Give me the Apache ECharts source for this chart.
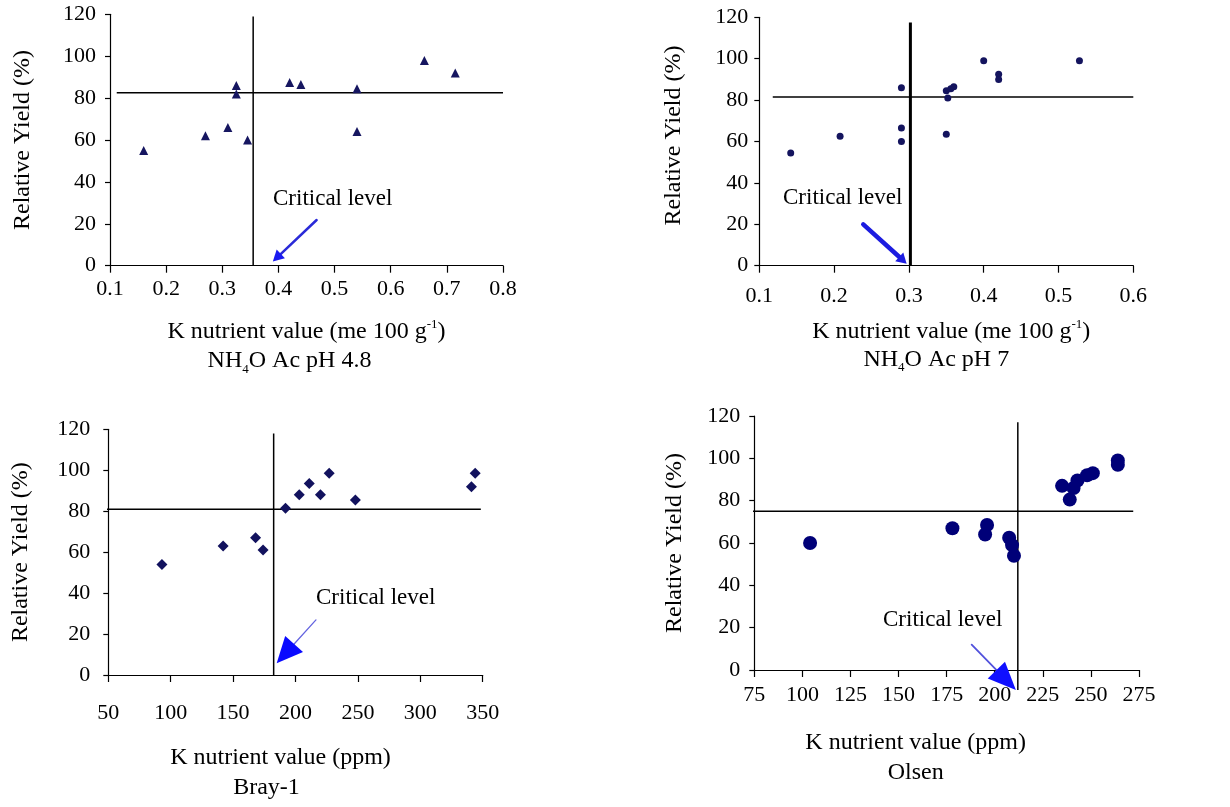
<!DOCTYPE html>
<html><head><meta charset="utf-8">
<script src="https://cdn.jsdelivr.net/npm/echarts@6/dist/echarts.min.js"></script>
<style>html,body{margin:0;padding:0;background:#fff}#c{width:1230px;height:807px}</style>
</head><body><div id="c"></div>
<script>
// ---- data ----
const yTicks = [0, 20, 40, 60, 80, 100, 120];
// Panel 1: NH4OAc pH 4.8
const p1X = [0.16, 0.27, 0.31, 0.345, 0.325, 0.325, 0.42, 0.44, 0.54, 0.54, 0.66, 0.715];
const p1Y = [55, 62, 66, 60, 86, 82, 87.5, 86.5, 84.5, 64, 98, 92];
const p1Crit = {x: 0.355, y: 82.5};
// Panel 2: NH4OAc pH 7
const p2X = [0.142, 0.208, 0.29, 0.29, 0.29, 0.35, 0.35, 0.352, 0.356, 0.36, 0.40, 0.42, 0.42, 0.528];
const p2Y = [54.5, 62.5, 86, 66.5, 60, 63.5, 84.5, 81, 85.5, 86.5, 99, 92.5, 90, 99];
const p2Crit = {x: 0.302, y: 81.5};
// Panel 3: Bray-1
const p3X = [93, 142, 168, 174, 192, 203, 211, 220, 227, 248, 341, 344];
const p3Y = [54, 63, 67, 61, 81.5, 88, 93.5, 88, 98.5, 85.5, 92, 98.5];
const p3Crit = {x: 182.5, y: 81};
// Panel 4: Olsen
const p4X = [104, 178, 196, 195, 207.5, 209, 210, 235, 239, 241, 243, 248, 251, 264, 264];
const p4Y = [60, 67, 68.5, 64, 62.5, 59, 54, 87, 80.5, 86, 89.5, 92, 93, 99, 97];
const p4Crit = {x: 212, y: 75};

// reference-line extents [start, end]
const p1H = [0.112, 0.8], p1V = [0, 119];
const p2H = [0.118, 0.6], p2V = [0, 117.5];
const p3H = [46, 348.5], p3V = [0, 118];
const p4H = [66, 272], p4V = [-9.5, 117];

// arrows [fromX, fromY, toX, toY]
const p1Arrow = [0.468, 21.8, 0.39, 2];
const p2Arrow = [0.239, 20, 0.297, 1];
const p3Arrow = [216.4, 26.9, 184.9, 5.7];
const p4Arrow = [188, 12, 211, -9.5];

const F = "'Liberation Serif','Times New Roman',serif";
const zip = (a, b) => a.map((v, i) => [v, b[i]]);

const grids = [
  {left: 110, top: 14.3, width: 393, height: 251.4},
  {left: 759.3, top: 17.3, width: 374, height: 248.4},
  {left: 108.3, top: 429.3, width: 374.4, height: 245.7},
  {left: 754.3, top: 416, width: 384.7, height: 254}
];

const xCfg = [
  {min: 0.1, max: 0.8, interval: 0.1, fmt: v => v.toFixed(1), margin: 13, gap: 52,
   name: 'K nutrient value (me 100 g{sup|-1})\nNH{sub|4}O Ac pH 4.8{pad| }', padL: 0, padR: 0, pad: 34, lh: 29},
  {min: 0.1, max: 0.6, interval: 0.1, fmt: v => v.toFixed(1), margin: 20, gap: 52,
   name: 'K nutrient value (me 100 g{sup|-1})\nNH{sub|4}O Ac pH 7{pad| }', padL: 10, padR: 0, pad: 30, lh: 28},
  {min: 50, max: 350, interval: 50, fmt: v => String(v), margin: 27, gap: 68,
   name: 'K nutrient value (ppm)\nBray-1{pad| }', padL: 0, padR: 30, pad: 28, lh: 30},
  {min: 75, max: 275, interval: 25, fmt: v => String(v), margin: 14, gap: 58,
   name: 'K nutrient value (ppm)\nOlsen', padL: 0, padR: 62, pad: 0, lh: 30}
];
const yCfg = [
  {gap: 75, margin: 14, pad: [0, 0, 0, 0]},
  {gap: 74, margin: 11, pad: [0, 0, 0, 12]},
  {gap: 76, margin: 18, pad: [0, 0, 0, 0]},
  {gap: 68, margin: 14, pad: [0, 0, 0, 0]}
];

const xAxis = xCfg.map((c, i) => ({
  type: 'value', gridIndex: i, min: c.min, max: c.max, interval: c.interval,
  name: c.name, nameLocation: 'middle', nameGap: c.gap,
  nameTextStyle: {
    fontFamily: F, fontSize: 24, color: '#000', lineHeight: c.lh, padding: [0, c.padR, 0, c.padL],
    rich: {
      sup: {fontFamily: F, fontSize: 13, lineHeight: 13, verticalAlign: 'top', color: '#000'},
      sub: {fontFamily: F, fontSize: 13, lineHeight: 13, verticalAlign: 'bottom', color: '#000'},
      pad: {width: c.pad, fontSize: 24}
    }
  },
  axisLine: {onZero: false, lineStyle: {color: '#000', width: 1.2}},
  axisTick: {show: true, length: 7, lineStyle: {color: '#000', width: 1.2}},
  axisLabel: {fontFamily: F, fontSize: 22, color: '#000', margin: c.margin, formatter: c.fmt},
  splitLine: {show: false}
}));
const yAxis = yCfg.map((c, i) => ({
  type: 'value', gridIndex: i, min: 0, max: 120, interval: 20,
  name: 'Relative Yield (%)', nameLocation: 'middle', nameGap: c.gap, nameRotate: 90,
  nameTextStyle: {fontFamily: F, fontSize: 24, color: '#000', padding: c.pad},
  axisLine: {show: true, onZero: false, lineStyle: {color: '#000', width: 1.2}},
  axisTick: {show: true, length: 5, lineStyle: {color: '#000', width: 1.2}},
  axisLabel: {fontFamily: F, fontSize: 22, color: '#000', margin: c.margin,
    formatter: v => yTicks.includes(v) ? String(v) : ''},
  splitLine: {show: false}
}));

const panels = [
  {X: p1X, Y: p1Y, crit: p1Crit, H: p1H, V: p1V, arrow: p1Arrow, sym: 'triangle', size: 9, color: '#161660',
   vw: 1.5, aw: 2.5, acol: '#2a2ad8', hcol: '#1a1af0', hl: 11, hw: 6},
  {X: p2X, Y: p2Y, crit: p2Crit, H: p2H, V: p2V, arrow: p2Arrow, sym: 'circle', size: 7, color: '#14145e',
   vw: 3, aw: 4.5, acol: '#1c1ce0', hcol: '#1c1ce0', hl: 10, hw: 6},
  {X: p3X, Y: p3Y, crit: p3Crit, H: p3H, V: p3V, arrow: p3Arrow, sym: 'diamond', size: 11, color: '#12125e',
   vw: 1.5, aw: 1.3, acol: '#6464e0', hcol: '#0a0aff', hl: 26, hw: 12},
  {X: p4X, Y: p4Y, crit: p4Crit, H: p4H, V: p4V, arrow: p4Arrow, sym: 'circle', size: 14, color: '#000078',
   vw: 1.5, aw: 1.8, acol: '#5252dc', hcol: '#1010ff', hl: 28, hw: 12}
];

function arrowRenderer(p) {
  return function (params, api) {
    const a = api.coord([api.value(0), api.value(1)]);
    const b = api.coord([api.value(2), api.value(3)]);
    const dx = b[0] - a[0], dy = b[1] - a[1];
    const len = Math.sqrt(dx * dx + dy * dy);
    const ux = dx / len, uy = dy / len;
    const bx = b[0] - ux * p.hl, by = b[1] - uy * p.hl;
    const nx = -uy * p.hw, ny = ux * p.hw;
    return {
      type: 'group',
      children: [
        {type: 'line', shape: {x1: a[0], y1: a[1], x2: bx + ux * 2, y2: by + uy * 2},
         style: {stroke: p.acol, lineWidth: p.aw, lineCap: 'round'}},
        {type: 'polygon', shape: {points: [[b[0], b[1]], [bx + nx, by + ny], [bx - nx, by - ny]]},
         style: {fill: p.hcol}}
      ]
    };
  };
}

const series = [];
panels.forEach((p, i) => {
  series.push({
    type: 'scatter', xAxisIndex: i, yAxisIndex: i, data: zip(p.X, p.Y),
    symbol: p.sym, symbolSize: p.size, itemStyle: {color: p.color, opacity: 1}, clip: false, z: 3
  });
  series.push({
    type: 'line', xAxisIndex: i, yAxisIndex: i, clip: false, symbol: 'none', silent: true,
    data: [[p.H[0], p.crit.y], [p.H[1], p.crit.y]],
    lineStyle: {color: '#000', width: 1.5}
  });
  series.push({
    type: 'line', xAxisIndex: i, yAxisIndex: i, clip: false, symbol: 'none', silent: true,
    data: [[p.crit.x, p.V[0]], [p.crit.x, p.V[1]]],
    lineStyle: {color: '#000', width: p.vw}
  });
  series.push({
    type: 'custom', xAxisIndex: i, yAxisIndex: i, clip: false, silent: true, z: 4,
    data: [p.arrow], renderItem: arrowRenderer(p)
  });
});

const labelPos = [[273, 199], [783, 198], [316, 598], [883, 620]];
const graphic = labelPos.map(([x, y]) => ({
  type: 'text', x: x, y: y,
  style: {text: 'Critical level', font: '23px ' + F, fill: '#000', textAlign: 'left', textVerticalAlign: 'middle'}
}));

const chart = echarts.init(document.getElementById('c'));
chart.setOption({
  animation: false, backgroundColor: '#fff',
  grid: grids, xAxis, yAxis, series, graphic
});
</script></body></html>
